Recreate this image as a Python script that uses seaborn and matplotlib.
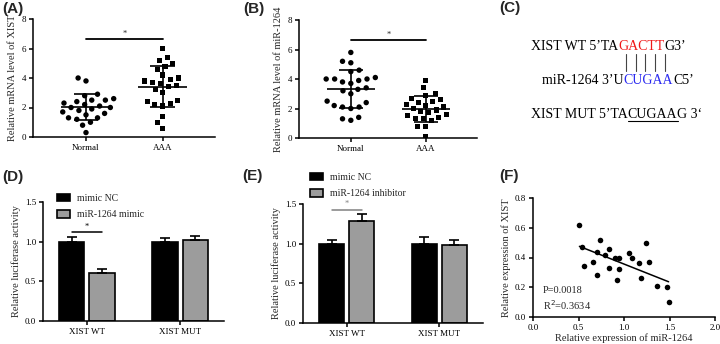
import numpy as np
import pandas as pd
import matplotlib
matplotlib.use('Agg')
import matplotlib.pyplot as plt
import seaborn as sns

# ---- data ----
groups = ['Normal', 'AAA']
a_normal = [4.0, 3.8, 2.9, 2.8, 2.6, 2.5, 2.5, 2.4, 2.3, 2.2, 2.1, 2.0,
            2.0, 1.9, 1.8, 1.7, 1.6, 1.5, 1.3, 1.3, 1.2, 1.0, 0.8, 0.3]
a_aaa = [6.0, 5.4, 5.2, 5.0, 4.8, 4.6, 4.2, 4.0, 3.9, 3.8, 3.7, 3.6,
         3.5, 3.4, 3.2, 3.0, 2.5, 2.4, 2.3, 2.2, 2.1, 1.4, 1.0, 0.6]
b_normal = [5.8, 5.2, 5.1, 4.6, 4.5, 4.1, 4.0, 4.0, 4.0, 3.9, 3.8, 3.7, 3.4,
            3.3, 3.2, 3.0, 2.5, 2.4, 2.2, 2.1, 2.1, 2.0, 1.4, 1.3, 1.2]
b_aaa = [3.9, 3.4, 3.0, 2.9, 2.7, 2.6, 2.5, 2.4, 2.3, 2.2, 2.1, 2.0,
         1.9, 1.8, 1.7, 1.6, 1.5, 1.4, 1.3, 1.3, 1.2, 0.8, 0.8, 0.1]

constructs = ['XIST WT', 'XIST MUT']
d_treat = ['mimic NC', 'miR-1264 mimic']
d_nc = [1.00, 1.00]
d_nc_err = [0.055, 0.05]
d_mimic = [0.61, 1.02]
d_mimic_err = [0.045, 0.055]
e_treat = ['mimic NC', 'miR-1264 inhibitor']
e_nc = [1.00, 1.00]
e_nc_err = [0.05, 0.085]
e_inh = [1.28, 0.98]
e_inh_err = [0.10, 0.07]

f_mir = [0.51, 0.54, 0.56, 0.66, 0.70, 0.70, 0.74, 0.79, 0.83, 0.84, 0.90, 0.92,
         0.94, 0.95, 1.06, 1.09, 1.17, 1.19, 1.24, 1.27, 1.36, 1.47, 1.49]
f_xist = [0.62, 0.47, 0.34, 0.37, 0.44, 0.28, 0.52, 0.42, 0.33, 0.46, 0.40, 0.25,
          0.32, 0.40, 0.43, 0.40, 0.36, 0.26, 0.50, 0.37, 0.21, 0.20, 0.10]

sns.set_theme(style='ticks')
plt.rcParams['font.family'] = ['Liberation Serif', 'DejaVu Serif']
plt.rcParams['axes.linewidth'] = 1.1
plt.rcParams['xtick.major.width'] = 1.1
plt.rcParams['ytick.major.width'] = 1.1
plt.rcParams['xtick.major.size'] = 3
plt.rcParams['ytick.major.size'] = 3
plt.rcParams['xtick.labelsize'] = 6.5
plt.rcParams['ytick.labelsize'] = 6.5
plt.rcParams['axes.labelsize'] = 7.5
plt.rcParams['axes.edgecolor'] = 'black'

W, H = 720, 344
fig = plt.figure(figsize=(7.2, 3.44), dpi=100)


def px_axes(l, t, r, b):
    return fig.add_axes([l / W, 1 - b / H, (r - l) / W, (b - t) / H])


def style(ax):
    sns.despine(ax=ax)
    ax.tick_params(colors='black', pad=2)
    ax.yaxis.labelpad = 3


def dot_panel(ax, normal, aaa, ylabel):
    df = pd.DataFrame({'group': ['Normal'] * len(normal) + ['AAA'] * len(aaa),
                       'value': normal + aaa})
    # invisible wide edges make the swarm spread out like the GraphPad dot plot
    sns.swarmplot(data=df[df.group == 'Normal'], x='group', y='value', order=groups,
                  marker='o', color='black', size=3.9, linewidth=1.9, edgecolor='none', ax=ax)
    sns.swarmplot(data=df[df.group == 'AAA'], x='group', y='value', order=groups,
                  marker='s', color='black', size=3.7, linewidth=1.9, edgecolor='none', ax=ax)
    for i, g in enumerate(groups):
        v = df.loc[df.group == g, 'value']
        m, s = v.mean(), v.std()
        ax.hlines(m, i - 0.32, i + 0.32, color='black', lw=1.2, zorder=3)
        ax.vlines(i, m - s, m + s, color='black', lw=1.2, zorder=3)
        ax.hlines([m - s, m + s], i - 0.16, i + 0.16, color='black', lw=1.2, zorder=3)
    ax.plot([0, 1], [6.64, 6.64], color='black', lw=1.3)
    ax.text(0.5, 6.7, '*', ha='center', va='bottom', fontsize=6)
    ax.set_xlim(-0.69, 1.68)
    ax.set_ylim(0, 8)
    ax.set_yticks([0, 2, 4, 6, 8])
    ax.set_xlabel('')
    ax.set_ylabel(ylabel)
    style(ax)


def bar_panel(ax, treat, nc, nc_err, tr, tr_err, legend_xy, sig_y, sig_color):
    df = pd.DataFrame({'construct': constructs * 2,
                       'treatment': [treat[0]] * 2 + [treat[1]] * 2,
                       'value': nc + tr})
    sns.barplot(data=df, x='construct', y='value', hue='treatment', hue_order=treat,
                palette=['black', '#9c9c9c'], width=0.65, gap=0.17, errorbar=None,
                edgecolor='black', linewidth=1.2, ax=ax)
    centers = []
    for cont, err in zip(ax.containers, [nc_err, tr_err]):
        xs = [p.get_x() + p.get_width() / 2 for p in cont.patches]
        hs = [p.get_height() for p in cont.patches]
        ax.errorbar(xs, hs, yerr=[np.zeros(len(err)), err], fmt='none', ecolor='black',
                    elinewidth=1.2, capsize=3.5, capthick=1.2, zorder=1)
        centers.append(xs)
    ax.plot([centers[0][0], centers[1][0]], [sig_y, sig_y], color=sig_color, lw=1.1)
    ax.text((centers[0][0] + centers[1][0]) / 2, sig_y + 0.02, '*', ha='center',
            va='bottom', fontsize=6, color=sig_color)
    handles, labels = ax.get_legend_handles_labels()
    ax.legend(handles, labels, loc='upper left', bbox_to_anchor=(legend_xy[0] / W, 1 - legend_xy[1] / H),
              bbox_transform=fig.transFigure, frameon=False, fontsize=7,
              handlelength=1.35, handleheight=0.8, labelspacing=0.75, borderpad=0,
              handletextpad=0.75, borderaxespad=0)
    ax.set_xlim(-0.47, 1.47)
    ax.set_ylim(0, 1.5)
    ax.set_yticks([0, 0.5, 1.0, 1.5])
    ax.set_yticklabels(['0.0', '0.5', '1.0', '1.5'])
    ax.set_xlabel('')
    ax.set_ylabel('Relative luciferase activity')
    style(ax)


axA = px_axes(33, 19, 215, 137)
dot_panel(axA, a_normal, a_aaa, 'Relative mRNA level of XIST')
axB = px_axes(299, 20, 477, 138)
dot_panel(axB, b_normal, b_aaa, 'Relative mRNA level of miR-1264')

axD = px_axes(43, 202, 224, 321)
bar_panel(axD, d_treat, d_nc, d_nc_err, d_mimic, d_mimic_err, (57, 194), 1.12, 'black')
axE = px_axes(303, 204, 483, 323)
bar_panel(axE, e_treat, e_nc, e_nc_err, e_inh, e_inh_err, (310, 173), 1.43, '#808080')

axF = px_axes(533, 198, 715, 317)
sns.regplot(x=f_mir, y=f_xist, ci=None, color='black', ax=axF,
            scatter_kws={'s': 16, 'linewidths': 0, 'alpha': 1},
            line_kws={'lw': 1.1})
axF.set_xlim(0, 2)
axF.set_ylim(0, 0.8)
axF.set_xticks([0, 0.5, 1.0, 1.5, 2.0])
axF.set_xticklabels(['0.0', '0.5', '1.0', '1.5', '2.0'])
axF.set_yticks([0, 0.2, 0.4, 0.6, 0.8])
axF.set_yticklabels(['0.0', '0.2', '0.4', '0.6', '0.8'])
axF.set_xlabel('Relative expression of miR-1264', labelpad=1)
axF.set_ylabel('Relative expression of XIST')
axF.text(0.11, 0.175, 'P=0.0018', fontsize=7.5, va='center')
axF.text(0.11, 0.08, 'R$^2$=0.3634', fontsize=7.5, va='center')
style(axF)

# ---- overlay in pixel coordinates: panel letters and panel C ----
ov = fig.add_axes([0, 0, 1, 1])
ov.set_xlim(0, W)
ov.set_ylim(H, 0)
ov.axis('off')
ov.patch.set_alpha(0)

for lab, x, y in [('(A)', 2, 9), ('(B)', 243, 9), ('(C)', 499, 8),
                  ('(D)', 2, 177), ('(E)', 242, 176), ('(F)', 499, 176)]:
    ov.text(x, y, lab, fontsize=11, fontweight='bold', va='center',
            family=['Liberation Sans', 'DejaVu Sans'])


def seq_text(x, y, parts):
    objs = []
    t = ov.text(x, y, parts[0][0], color=parts[0][1], fontsize=10, va='baseline')
    objs.append(t)
    for s, c in parts[1:]:
        t = ov.annotate(s, xy=(1, 0), xycoords=t, va='bottom', ha='left', color=c, fontsize=10)
        objs.append(t)
    return objs


red, blue = '#f01818', '#2a2af0'
l1 = seq_text(531, 49.5, [("XIST WT 5\u2019TA", 'black'), ('GACTT', red), ('G3\u2019', 'black')])
l2 = seq_text(542, 83.5, [("miR-1264 3\u2019U", 'black'), ('CUGAA', blue), ('C5\u2019', 'black')])
l3 = seq_text(531, 117.5, [("XIST MUT 5\u2019TA", 'black'), ('CUGAA', 'black'), ('G 3\u2018', 'black')])

fig.canvas.draw()
inv = ov.transData.inverted()
r1 = inv.transform(l1[1].get_window_extent())
r2 = inv.transform(l2[1].get_window_extent())
x0 = (r1[0][0] + r2[0][0]) / 2 + 5
x1 = (r1[1][0] + r2[1][0]) / 2 - 4
for xx in np.linspace(x0, x1, 5):
    ov.plot([xx, xx], [54, 71], color='#444444', lw=0.8)
r3 = inv.transform(l3[1].get_window_extent())
ov.plot([r3[0][0], r3[1][0] + 1], [121, 121], color='black', lw=0.8)

fig.savefig('out.png', dpi=100)
